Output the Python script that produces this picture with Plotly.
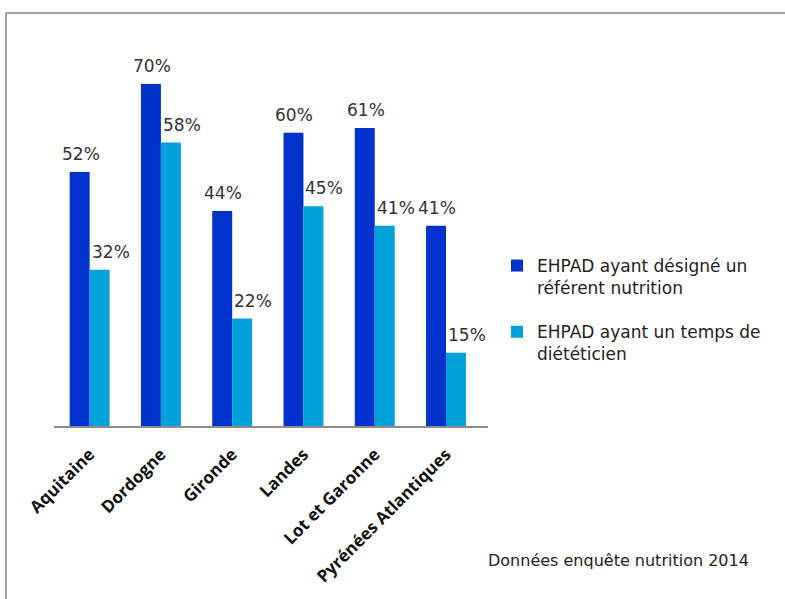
import plotly.graph_objects as go

categories = ["Aquitaine", "Dordogne", "Gironde", "Landes", "Lot et Garonne", "Pyrénées Atlantiques"]
referent = [52, 70, 44, 60, 61, 41]
dieteticien = [32, 58, 22, 45, 41, 15]
series_names = ["EHPAD ayant désigné un<br>référent nutrition", "EHPAD ayant un temps de<br>diététicien"]
colors = ["#0033CC", "#00A0DA"]

# plot-area geometry (pixels in the page)
L, R, T, B = 54, 488, 35, 426
W, H = 785, 599
pw, ph = R - L, B - T


def px(x):
    return (x - L) / pw


def py(y):
    return (B - y) / ph


fig = go.Figure()
for k, (name, vals, col) in enumerate(zip(series_names, [referent, dieteticien], colors)):
    fig.add_trace(go.Bar(x=categories, y=vals, name=name, marker_color=col,
                         legendgroup=f"g{k}", marker_line_width=0, hoverinfo="skip"))

# value labels
for i, cat in enumerate(categories):
    for vals, shift in ((referent, -9), (dieteticien, 21)):
        fig.add_annotation(x=cat, y=vals[i], text=f"{vals[i]}%", xref="x", yref="y",
                           showarrow=False, yanchor="bottom", xshift=shift, yshift=6,
                           font=dict(family="DejaVu Sans", size=17, color="#333333"))

fig.add_annotation(text="Données enquête nutrition 2014", xref="paper", yref="paper",
                   x=px(486), y=py(560), xanchor="left", yanchor="middle",
                   showarrow=False, font=dict(family="DejaVu Sans", size=16, color="#222222"))

# outer border (top and left edges visible)
fig.add_shape(type="line", xref="paper", yref="paper",
              x0=px(6), x1=px(790), y0=py(13), y1=py(13),
              line=dict(color="#A0A0A0", width=2))
fig.add_shape(type="line", xref="paper", yref="paper",
              x0=px(6), x1=px(6), y0=py(13), y1=py(605),
              line=dict(color="#A0A0A0", width=2))

fig.update_layout(
    width=W, height=H,
    margin=dict(l=L, r=W - R, t=T, b=H - B),
    paper_bgcolor="white", plot_bgcolor="white",
    barmode="group", bargap=0.44, bargroupgap=0,
    showlegend=True,
    legend=dict(x=px(497), y=py(248), xanchor="left", yanchor="top",
                valign="top", tracegroupgap=19,
                font=dict(family="DejaVu Sans", size=17, color="#222222")),
    xaxis=dict(showline=True, linecolor="#8C8C8C", linewidth=1.5, tickangle=-45,
               ticks="", ticklabelstandoff=10,
               tickfont=dict(family="Open Sans", size=17, color="#111111", weight="bold")),
    yaxis=dict(visible=False),
)
fig.update_yaxes(range=[0, (B - T) / 4.886])

fig.write_html("out.html", config={"displayModeBar": False},
               post_script="document.body.style.margin='0';document.body.style.overflow='hidden';")
